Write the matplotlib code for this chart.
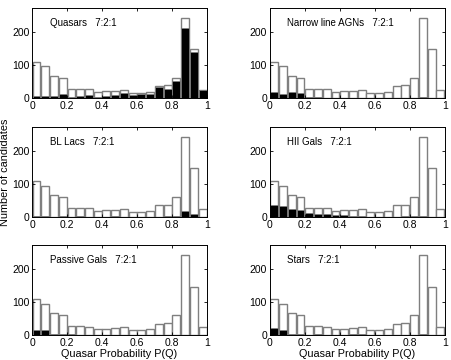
import matplotlib

matplotlib.use("Agg")
import matplotlib.pyplot as plt
import numpy as np

plt.rcParams["font.family"] = ["Liberation Sans", "DejaVu Sans"]

# bin centres of P(Q), 20 bins of width 0.05
bin_centres = np.arange(20) * 0.05 + 0.025

# all candidates (same white histogram in every panel)
total = [110, 95, 67, 60, 27, 27, 26, 19, 20, 21,
         24, 15, 16, 18, 35, 38, 60, 243, 147, 24]

quasars = [5, 5, 7, 13, 4, 5, 8, 3, 5, 10,
           14, 10, 12, 12, 33, 27, 52, 210, 138, 24]
nl_agns = [18, 12, 18, 14, 3, 2, 1, 1, 1, 1,
           0, 0, 0, 0, 0, 0, 1, 2, 0, 0]
bl_lacs = [2, 2, 1, 2, 0, 2, 0, 0, 0, 3,
           0, 0, 0, 0, 0, 2, 2, 18, 8, 0]
hii_gals = [37, 32, 24, 22, 12, 10, 8, 5, 6, 2,
            2, 1, 1, 1, 0, 2, 2, 3, 0, 0]
passive_gals = [17, 17, 4, 2, 2, 1, 0, 0, 0, 0,
                0, 0, 0, 0, 0, 0, 0, 0, 0, 0]
stars = [22, 17, 5, 2, 0, 2, 1, 0, 0, 4,
         3, 0, 0, 1, 0, 0, 0, 5, 1, 0]

titles = ["Quasars   7:2:1", "Narrow line AGNs   7:2:1",
          "BL Lacs   7:2:1", "HII Gals   7:2:1",
          "Passive Gals   7:2:1", "Stars   7:2:1"]
subsets = [quasars, nl_agns, bl_lacs, hii_gals, passive_gals, stars]

fig = plt.figure(figsize=(4.52, 3.6), dpi=100)
lefts = [0.071, 0.597]
bottoms = [0.728, 0.397, 0.069]
w, h = 0.387, 0.25

for i, (title, sub) in enumerate(zip(titles, subsets)):
    row, col = divmod(i, 2)
    ax = fig.add_axes([lefts[col], bottoms[row], w, h])
    ax.bar(bin_centres, total, width=0.045, color="white",
           edgecolor="#7f7f7f", linewidth=1.0)
    ax.bar(bin_centres, sub, width=0.045, color="black",
           edgecolor="#7f7f7f", linewidth=0.6)
    ax.set_xlim(0, 1)
    ax.set_ylim(0, 272)
    ax.set_xticks([0, 0.2, 0.4, 0.6, 0.8, 1])
    ax.set_xticklabels(["0", "0.2", "0.4", "0.6", "0.8", "1"])
    ax.set_yticks([0, 100, 200])
    ax.tick_params(direction="in", top=True, right=True, labelsize=7.5,
                   length=2.5, width=0.6, pad=2)
    for s in ax.spines.values():
        s.set_linewidth(0.7)
    ax.text(0.1, 0.83, title, transform=ax.transAxes, fontsize=7,
            va="center", ha="left")
    if row == 2:
        ax.set_xlabel("Quasar Probability P(Q)", fontsize=7.8, labelpad=1)
    if row == 1 and col == 0:
        ax.set_ylabel("Number of candidates", fontsize=7.8)
        ax.yaxis.set_label_coords(-0.125, 0.5)

fig.savefig("out.png", dpi=100)
